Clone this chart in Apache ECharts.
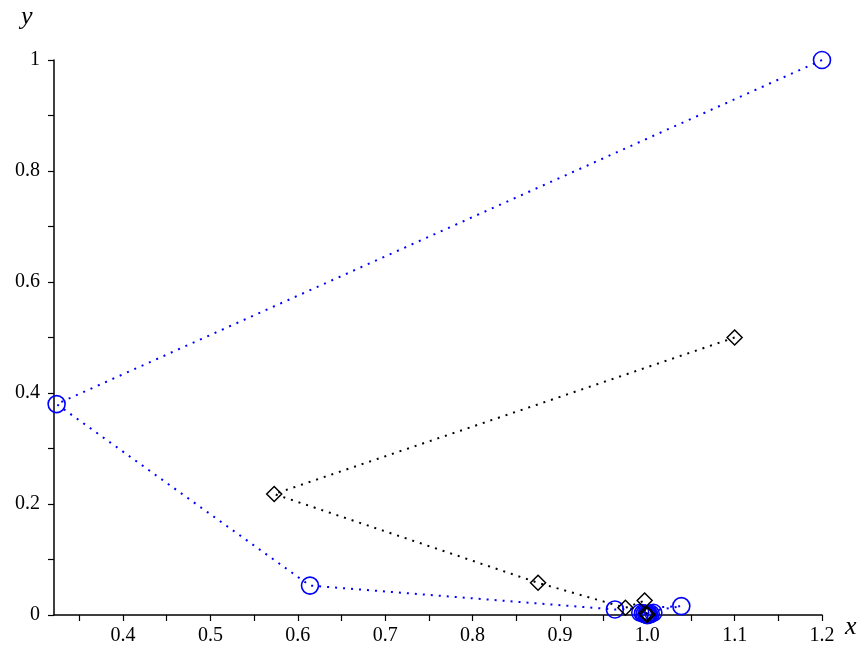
<!DOCTYPE html>
<html>
<head>
<meta charset="utf-8">
<script src="https://cdn.jsdelivr.net/npm/echarts@6/dist/echarts.min.js"></script>
<style>html,body{margin:0;padding:0;background:#fff}#c{width:865px;height:650px}</style>
</head>
<body>
<div id="c"></div>
<script>
const blueX = [1.2, 0.324, 0.614, 0.963, 1.039, 0.992, 1.007, 0.995, 1.004, 0.997, 1.002, 0.999, 1.001, 1.0, 1.0];
const blueY = [1.0, 0.380, 0.053, 0.010, 0.016, 0.004, 0.004, 0.003, 0.002, 0.002, 0.001, 0.001, 0.0005, 0.0002, 0.0];
const blackX = [1.1, 0.573, 0.875, 0.975, 0.997, 0.999, 1.0, 1.0];
const blackY = [0.5, 0.218, 0.058, 0.013, 0.026, 0.003, 0.001, 0.0];
const xTickLabels = [0.4, 0.5, 0.6, 0.7, 0.8, 0.9, 1.0, 1.1, 1.2];
const xTicks = [0.35, 0.4, 0.45, 0.5, 0.55, 0.6, 0.65, 0.7, 0.75, 0.8, 0.85, 0.9, 0.95, 1.0, 1.05, 1.1, 1.15, 1.2];
const yTickLabels = [0, 0.2, 0.4, 0.6, 0.8, 1];
const yTicks = [0, 0.1, 0.2, 0.3, 0.4, 0.5, 0.6, 0.7, 0.8, 0.9, 1.0];

const font = '"Liberation Serif", "DejaVu Serif", serif';
const zip = (a, b) => a.map((v, i) => [v, b[i]]);

const chart = echarts.init(document.getElementById('c'), null, {renderer: 'canvas'});
chart.setOption({
  animation: false,
  backgroundColor: '#fff',
  grid: {left: 54, right: 43, top: 60, bottom: 35, containLabel: false, outerBoundsMode: 'none'},
  xAxis: {
    type: 'value', min: 0.321, max: 1.2,
    splitLine: {show: false},
    axisLine: {onZero: false, lineStyle: {color: '#000', width: 1.5}},
    axisTick: {show: true, length: 6, lineStyle: {color: '#000', width: 1.2}, customValues: xTicks},
    axisLabel: {color: '#000', fontFamily: font, fontSize: 20, margin: 11, customValues: xTickLabels,
      formatter: v => v.toFixed(1)}
  },
  yAxis: {
    type: 'value', min: 0, max: 1,
    splitLine: {show: false},
    axisLine: {show: true, onZero: false, lineStyle: {color: '#000', width: 1.5}},
    axisTick: {show: true, length: 6, lineStyle: {color: '#000', width: 1.2}, customValues: yTicks},
    axisLabel: {color: '#000', fontFamily: font, fontSize: 20, margin: 14, customValues: yTickLabels,
      formatter: v => (v === 0 || v === 1) ? String(v) : v.toFixed(1)}
  },
  graphic: [
    {type: 'text', left: 21, top: 4, style: {text: 'y', font: 'italic 26px ' + font, fill: '#000'}},
    {type: 'text', left: 845, top: 614, style: {text: 'x', font: 'italic 26px ' + font, fill: '#000'}}
  ],
  series: [
    {
      type: 'line', data: zip(blueX, blueY), clip: false,
      symbol: 'circle', symbolSize: 17,
      itemStyle: {color: 'rgba(0,0,0,0)', borderColor: '#0000ff', borderWidth: 1.6},
      lineStyle: {color: '#0000ff', width: 2, type: [2, 6]}
    },
    {
      type: 'line', data: zip(blackX, blackY), clip: false,
      symbol: 'diamond', symbolSize: 15,
      itemStyle: {color: 'rgba(0,0,0,0)', borderColor: '#000', borderWidth: 1.5},
      lineStyle: {color: '#000', width: 2, type: [2, 6]}
    }
  ]
});
</script>
</body>
</html>
